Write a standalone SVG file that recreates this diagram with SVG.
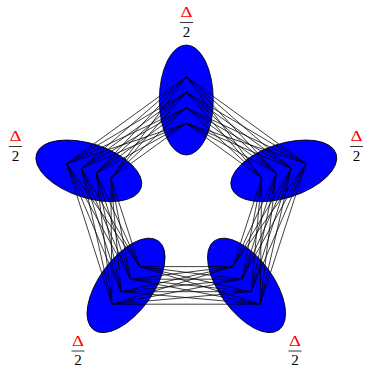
<svg xmlns="http://www.w3.org/2000/svg" width="366" height="366" viewBox="0 0 366 366">
<style>
.grp{fill:#0000ff;stroke:#000;stroke-width:0.8}
.edges{fill:none;stroke:#000;stroke-width:0.75}
.lab{font-family:"Liberation Serif","DejaVu Serif",serif;font-size:15px;text-anchor:middle}
.d{fill:#ff0000}
.n{fill:#000}
.bar{stroke:#000;stroke-width:0.8}
</style>
<rect width="366" height="366" fill="#fff"/>
<g id="node-top"><ellipse class="grp" cx="186.3" cy="100" rx="27" ry="55"/></g>
<g id="node-upper-right"><ellipse class="grp" cx="0" cy="0" rx="27" ry="55" transform="translate(283.8 170.8) rotate(72)"/></g>
<g id="node-lower-right"><ellipse class="grp" cx="0" cy="0" rx="27" ry="55" transform="translate(246.55 285.4) rotate(144)"/></g>
<g id="node-lower-left"><ellipse class="grp" cx="0" cy="0" rx="27" ry="55" transform="translate(126.05 285.4) rotate(-144)"/></g>
<g id="node-upper-left"><ellipse class="grp" cx="0" cy="0" rx="27" ry="55" transform="translate(88.8 170.8) rotate(-72)"/></g>
<g id="connectors" class="edges">
<path d="M186.3 76.8L261.7 178M186.3 76.8L276.4 173.2M186.3 76.8L291.2 168.4M186.3 76.8L305.9 163.7M186.3 92.3L261.7 178M186.3 92.3L276.4 173.2M186.3 92.3L291.2 168.4M186.3 92.3L305.9 163.7M186.3 107.8L261.7 178M186.3 107.8L276.4 173.2M186.3 107.8L291.2 168.4M186.3 107.8L305.9 163.7M186.3 123.3L261.7 178M186.3 123.3L276.4 173.2M186.3 123.3L291.2 168.4M186.3 123.3L305.9 163.7"/>
<path d="M186.3 76.8L110.9 178M186.3 76.8L96.2 173.2M186.3 76.8L81.4 168.4M186.3 76.8L66.7 163.7M186.3 92.3L110.9 178M186.3 92.3L96.2 173.2M186.3 92.3L81.4 168.4M186.3 92.3L66.7 163.7M186.3 107.8L110.9 178M186.3 107.8L96.2 173.2M186.3 107.8L81.4 168.4M186.3 107.8L66.7 163.7M186.3 123.3L110.9 178M186.3 123.3L96.2 173.2M186.3 123.3L81.4 168.4M186.3 123.3L66.7 163.7"/>
<path d="M261.7 178L232.9 266.6M261.7 178L242 279.2M261.7 178L251.1 291.7M261.7 178L260.2 304.2M276.4 173.2L232.9 266.6M276.4 173.2L242 279.2M276.4 173.2L251.1 291.7M276.4 173.2L260.2 304.2M291.2 168.4L232.9 266.6M291.2 168.4L242 279.2M291.2 168.4L251.1 291.7M291.2 168.4L260.2 304.2M305.9 163.7L232.9 266.6M305.9 163.7L242 279.2M305.9 163.7L251.1 291.7M305.9 163.7L260.2 304.2"/>
<path d="M110.9 178L139.7 266.6M110.9 178L130.6 279.2M110.9 178L121 291.7M110.9 178L111.9 304.2M96.2 173.2L139.7 266.6M96.2 173.2L130.6 279.2M96.2 173.2L121 291.7M96.2 173.2L111.9 304.2M81.4 168.4L139.7 266.6M81.4 168.4L130.6 279.2M81.4 168.4L121 291.7M81.4 168.4L111.9 304.2M66.7 163.7L139.7 266.6M66.7 163.7L130.6 279.2M66.7 163.7L121 291.7M66.7 163.7L111.9 304.2"/>
<path d="M232.9 266.6L139.7 266.6M232.9 266.6L130.6 279.2M232.9 266.6L121 291.7M232.9 266.6L111.9 304.2M242 279.2L139.7 266.6M242 279.2L130.6 279.2M242 279.2L121 291.7M242 279.2L111.9 304.2M251.1 291.7L139.7 266.6M251.1 291.7L130.6 279.2M251.1 291.7L121 291.7M251.1 291.7L111.9 304.2M260.2 304.2L139.7 266.6M260.2 304.2L130.6 279.2M260.2 304.2L121 291.7M260.2 304.2L111.9 304.2"/>
</g>
<g id="label-top" class="lab"><text class="d" x="186.5" y="17.3" textLength="12" lengthAdjust="spacingAndGlyphs">Δ</text><line class="bar" x1="180" y1="22.5" x2="193" y2="22.5"/><text class="n" x="186.5" y="37">2</text></g>
<g id="label-upper-right" class="lab"><text class="d" x="356.5" y="141.3" textLength="12" lengthAdjust="spacingAndGlyphs">Δ</text><line class="bar" x1="350" y1="146.5" x2="363" y2="146.5"/><text class="n" x="356.5" y="161">2</text></g>
<g id="label-upper-left" class="lab"><text class="d" x="15.5" y="141.3" textLength="12" lengthAdjust="spacingAndGlyphs">Δ</text><line class="bar" x1="9" y1="146.5" x2="22" y2="146.5"/><text class="n" x="15.5" y="161">2</text></g>
<g id="label-lower-right" class="lab"><text class="d" x="295" y="346.2" textLength="12" lengthAdjust="spacingAndGlyphs">Δ</text><line class="bar" x1="288.5" y1="351" x2="301.5" y2="351"/><text class="n" x="295" y="364.5">2</text></g>
<g id="label-lower-left" class="lab"><text class="d" x="78" y="346.2" textLength="12" lengthAdjust="spacingAndGlyphs">Δ</text><line class="bar" x1="71.5" y1="351" x2="84.5" y2="351"/><text class="n" x="78" y="364.5">2</text></g>
</svg>
